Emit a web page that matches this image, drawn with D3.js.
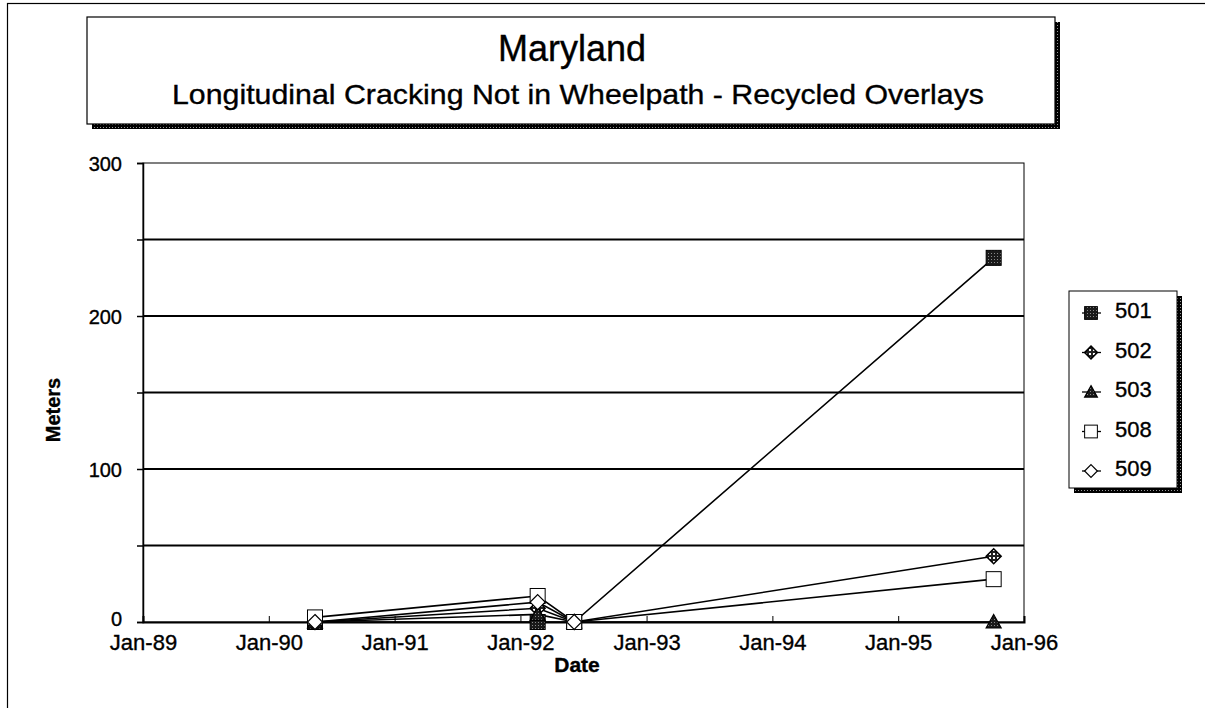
<!DOCTYPE html>
<html><head><meta charset="utf-8">
<script src="https://cdn.jsdelivr.net/npm/d3@7"></script>
<style>
html,body{margin:0;padding:0;background:#fff;}
svg{display:block;}
svg text{font-family:"Liberation Sans",Arial,sans-serif;stroke:#000;stroke-width:0.35px;}
</style></head>
<body>
<svg id="chart" width="1205" height="708"></svg>
<script>
// ---- data ----
const dates = ["1990-05-15", "1992-02-20", "1992-06-05", "1995-10-05"];
const series = ["501", "502", "503", "508", "509"];
const v501 = [0, 0, 0, 238];
const v502 = [0, 9, 0, 43];
const v503 = [0, 5, 0, 0];
const v508 = [3, 17, 0, 28];
const v509 = [0, 13, 0, null];
const yTicks = [0, 100, 200, 300];
const gridVals = [50, 100, 150, 200, 250];
const xTickYears = ["1989-01-01","1990-01-01","1991-01-01","1992-01-01","1993-01-01","1994-01-01","1995-01-01","1996-01-01"];
const titleText = "Maryland";
const subtitleText = "Longitudinal Cracking Not in Wheelpath - Recycled Overlays";

(function(){
const seriesValues = {"501": v501, "502": v502, "503": v503, "508": v508, "509": v509};
const parse = d3.timeParse("%Y-%m-%d");
const svg = d3.select("#chart");

// patterns
const defs = svg.append("defs");
const p1 = defs.append("pattern").attr("id","stip").attr("width",3).attr("height",3).attr("patternUnits","userSpaceOnUse");
p1.append("rect").attr("width",3).attr("height",3).attr("fill","#1a1a1a");
p1.append("rect").attr("x",1).attr("y",1).attr("width",1).attr("height",1).attr("fill","#888");
const p2 = defs.append("pattern").attr("id","hatch").attr("width",4).attr("height",4).attr("patternUnits","userSpaceOnUse");
p2.append("rect").attr("width",4).attr("height",4).attr("fill","#222");
p2.append("rect").attr("x",1).attr("y",1).attr("width",2).attr("height",2).attr("fill","#fff");
const p3 = defs.append("pattern").attr("id","shadow").attr("width",3).attr("height",3).attr("patternUnits","userSpaceOnUse");
p3.append("rect").attr("width",3).attr("height",3).attr("fill","#000");
p3.append("rect").attr("x",1).attr("y",1).attr("width",1).attr("height",1).attr("fill","#999");

// outer frame
svg.append("rect").attr("x",7.5).attr("y",3.5).attr("width",1300).attr("height",800)
  .attr("fill","none").attr("stroke","#000").attr("stroke-width",1.2);

// title box
const tb = {x:87, y:17, w:968, h:107};
svg.append("rect").attr("x",tb.x+5).attr("y",tb.y+5).attr("width",tb.w).attr("height",tb.h).attr("fill","url(#shadow)");
svg.append("rect").attr("x",tb.x).attr("y",tb.y).attr("width",tb.w).attr("height",tb.h).attr("fill","#fff").attr("stroke","#000").attr("stroke-width",1.2);
svg.append("text").attr("x",572).attr("y",61).attr("text-anchor","middle")
  .attr("font-size",36).attr("fill","#000").text(titleText);
svg.append("text").attr("x",578).attr("y",104).attr("text-anchor","middle")
  .attr("font-size",28).attr("fill","#000").attr("textLength",812).attr("lengthAdjust","spacingAndGlyphs").text(subtitleText);

// scales
const pL = 143, pR = 1024, pT = 163, pB = 622;
const x = d3.scaleTime().domain([parse("1989-01-01"), parse("1996-01-01")]).range([pL, pR]);
const y = d3.scaleLinear().domain([0, 300]).range([pB, pT]);

// plot border
svg.append("rect").attr("x",pL).attr("y",pT).attr("width",pR-pL).attr("height",pB-pT)
  .attr("fill","none").attr("stroke","#000").attr("stroke-width",1);

// gridlines
svg.append("g").selectAll("line").data(gridVals).join("line")
  .attr("x1",pL).attr("x2",pR).attr("y1",d=>y(d)).attr("y2",d=>y(d))
  .attr("stroke","#000").attr("stroke-width",2);

// y axis
const yAxis = d3.axisLeft(y).tickValues(d3.range(0,301,50)).tickSize(6)
  .tickFormat(d => yTicks.includes(d) ? d : "");
const gy = svg.append("g").attr("transform",`translate(${pL},0)`).call(yAxis);
gy.attr("font-family",null);
gy.select(".domain").attr("stroke-width",1.5);
gy.selectAll(".tick line").attr("stroke-width",1.5);
gy.selectAll("text").attr("font-size",20).attr("fill","#000").attr("x",-21)
  .attr("dy", d => d === 0 ? "0.15em" : "0.35em");

// x axis
const xAxis = d3.axisBottom(x).tickValues(xTickYears.map(parse)).tickSize(-6).tickFormat(d3.timeFormat("Jan-%y"));
const gx = svg.append("g").attr("transform",`translate(0,${pB})`).call(xAxis);
gx.attr("font-family",null);
gx.select(".domain").attr("stroke-width",2);
gx.selectAll(".tick line").attr("stroke-width",1);
gx.selectAll("text").attr("font-size",22).attr("fill","#000").attr("y",28).attr("dy",0);

// axis titles
svg.append("text").attr("x",577).attr("y",672).attr("text-anchor","middle").attr("font-size",21).attr("font-weight","bold").text("Date");
svg.append("text").attr("transform","translate(60,410) rotate(-90)").attr("text-anchor","middle").attr("font-size",20).attr("font-weight","bold").text("Meters");

// marker drawing
function marker(g, s, cx, cy, sc) {
  sc = sc || 1;
  if (s === "501") {
    g.append("rect").attr("x",cx-7.5*sc).attr("y",cy-7.5*sc).attr("width",15*sc).attr("height",15*sc)
      .attr("fill","url(#stip)").attr("stroke","#000").attr("stroke-width",1);
  } else if (s === "502") {
    const r = 7.5*sc;
    g.append("path").attr("d",`M${cx},${cy-r}L${cx+r},${cy}L${cx},${cy+r}L${cx-r},${cy}Z`)
      .attr("fill","url(#hatch)").attr("stroke","#000").attr("stroke-width",1.5);
  } else if (s === "503") {
    const r = 7.5*sc;
    g.append("path").attr("d",`M${cx},${cy-r}L${cx+r},${cy+r*0.8}L${cx-r},${cy+r*0.8}Z`)
      .attr("fill","url(#stip)").attr("stroke","#000").attr("stroke-width",1.2);
  } else if (s === "508") {
    g.append("rect").attr("x",cx-7.5*sc).attr("y",cy-7.5*sc).attr("width",15*sc).attr("height",15*sc)
      .attr("fill","#fff").attr("stroke","#000").attr("stroke-width",1);
  } else if (s === "509") {
    const r = 7.5*sc;
    g.append("path").attr("d",`M${cx},${cy-r}L${cx+r},${cy}L${cx},${cy+r}L${cx-r},${cy}Z`)
      .attr("fill","#fff").attr("stroke","#000").attr("stroke-width",1.2);
  }
}

// lines
const line = d3.line().defined(d => d.v !== null).x(d => x(d.d)).y(d => y(d.v));
const gl = svg.append("g");
series.forEach(s => {
  const pts = dates.map((d,i) => ({d: parse(d), v: seriesValues[s][i]}));
  gl.append("path").datum(pts).attr("d", line).attr("fill","none").attr("stroke","#000").attr("stroke-width",1.6);
});
const gm = svg.append("g");
series.forEach(s => {
  dates.forEach((d,i) => {
    const v = seriesValues[s][i];
    if (v === null) return;
    marker(gm, s, x(parse(d)), y(v));
  });
});

// legend
const lb = {x:1069, y:291, w:108, h:197};
svg.append("rect").attr("x",lb.x+5).attr("y",lb.y+5).attr("width",lb.w).attr("height",lb.h).attr("fill","url(#shadow)");
svg.append("rect").attr("x",lb.x).attr("y",lb.y).attr("width",lb.w).attr("height",lb.h).attr("fill","#fff").attr("stroke","#000").attr("stroke-width",1);
const ly = d3.scalePoint().domain(series).range([318, 476]);
const gLeg = svg.append("g");
series.forEach(s => {
  const cy = ly(s) - 5;
  gLeg.append("line").attr("x1",1082).attr("x2",1101).attr("y1",cy).attr("y2",cy).attr("stroke","#000").attr("stroke-width",1.3);
  marker(gLeg, s, 1091, cy, 0.85);
  gLeg.append("text").attr("x",1115).attr("y",ly(s)).attr("font-size",22).attr("fill","#000").text(s);
});
})();
</script>
</body></html>
